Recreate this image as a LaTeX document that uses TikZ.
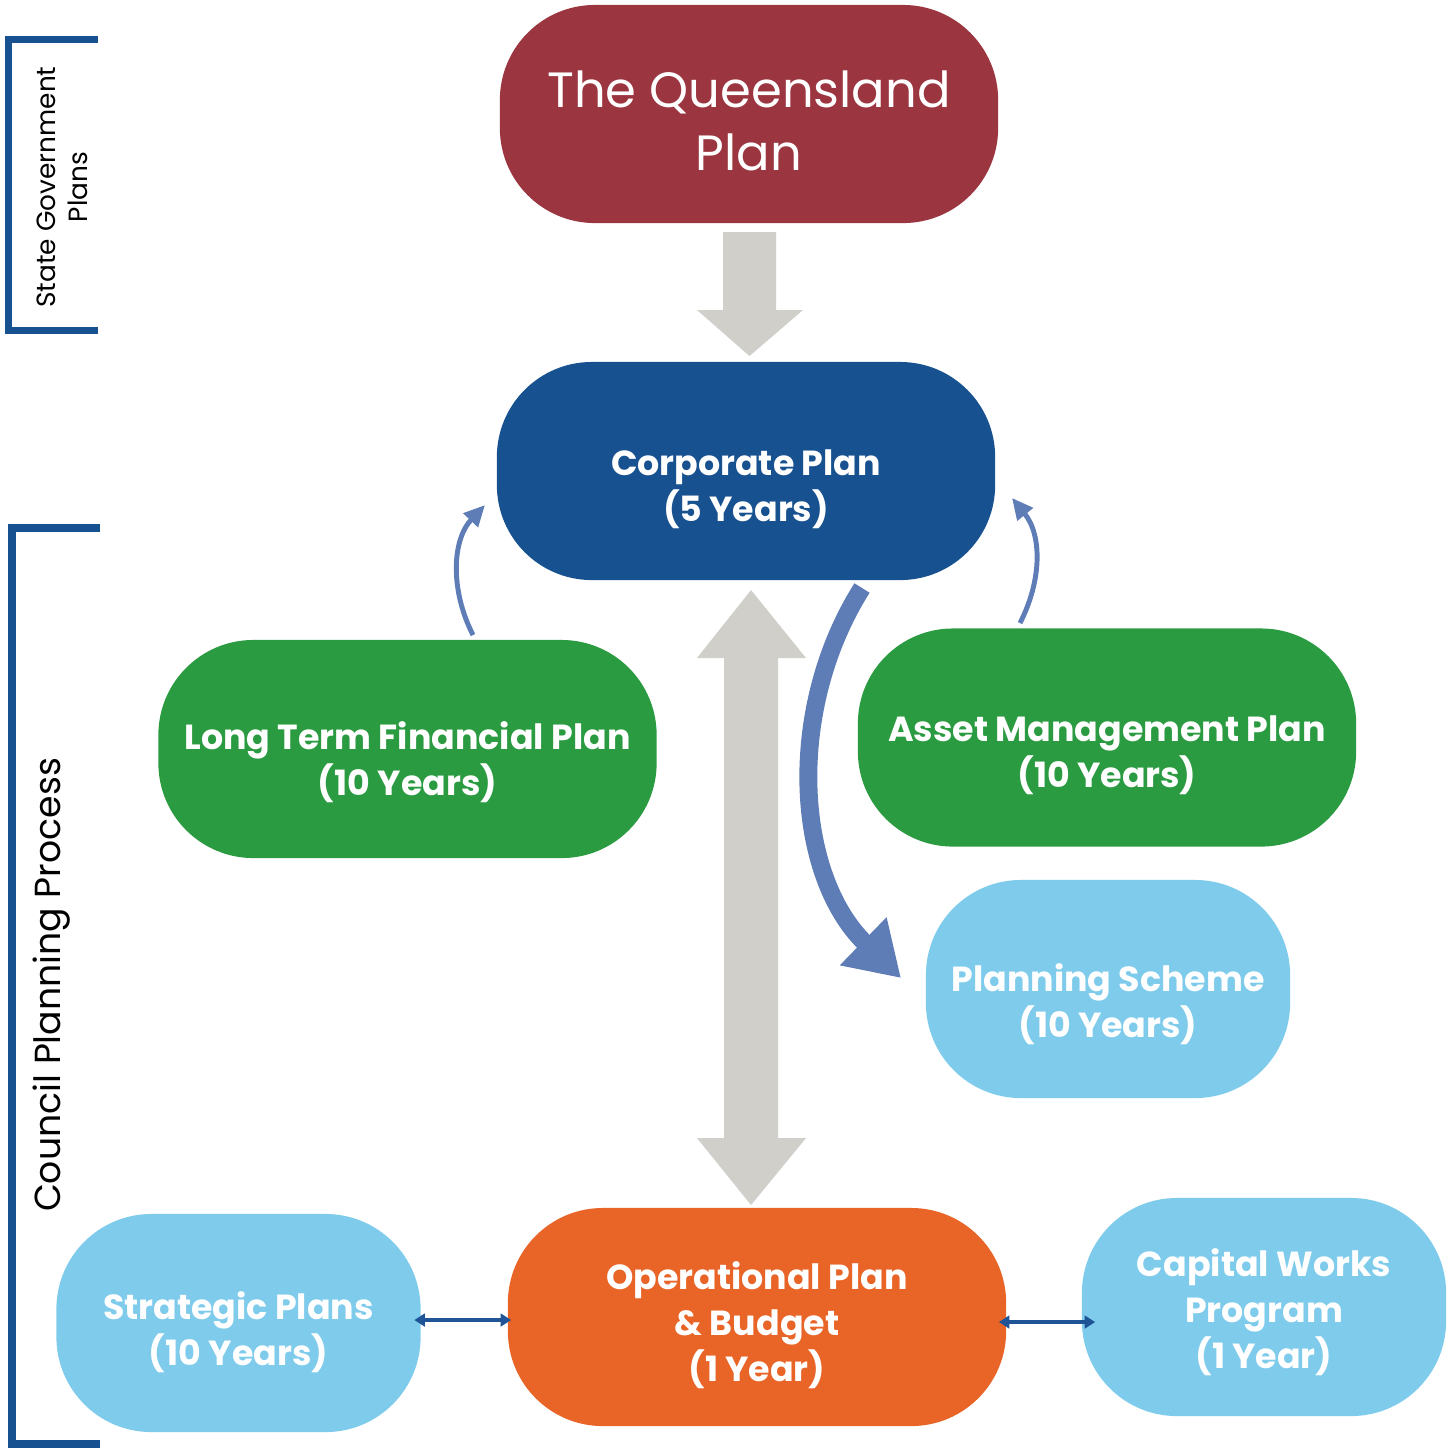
\documentclass[tikz,border=0pt]{standalone}
\usepackage{fontspec}
\setmainfont{Poppins}
\usetikzlibrary{arrows.meta,calc}
\definecolor{qred}{HTML}{9B3540}
\definecolor{cblue}{HTML}{17518F}
\definecolor{cgreen}{HTML}{2B9B42}
\definecolor{lblue}{HTML}{7FCBEC}
\definecolor{corange}{HTML}{E86427}
\definecolor{cgray}{HTML}{D0CFCA}
\definecolor{arrblue}{HTML}{5E7CB6}
\definecolor{dblue}{HTML}{1F5596}
\begin{document}
\begin{tikzpicture}[x=0.01cm,y=-0.01cm,
  box/.style={rounded corners=0.95cm, inner sep=0pt, minimum height=2.18cm},
  wbox/.style={box, minimum width=4.98cm},
  nbox/.style={box, minimum width=3.64cm},
  lbl/.style={align=center, text=white, inner sep=0pt, font=\fontsize{9.9}{13}\selectfont\bfseries},
  qlbl/.style={align=center, text=white, inner sep=0pt, font=\fontsize{14.1}{17.9}\selectfont},
  bracket/.style={draw=cblue, line width=2.4pt},
  blockarrow/.style={fill=cgray},
  smallcurve/.style={draw=arrblue, line width=1.4pt, -{Triangle[length=6pt,width=5.5pt]}},
  dbl/.style={draw=dblue, line width=0.9pt, {Triangle[length=3pt,width=3.6pt]}-{Triangle[length=3pt,width=3.6pt]}}
]
\useasboundingbox (0,0) rectangle (1455,1450);

% boxes
\node[wbox, fill=qred, label={[qlbl, yshift=-0.07cm]center:{The Queensland\\Plan}}] (qld) at (749,114) {};
\node[wbox, fill=cblue, label={[lbl, yshift=-0.18cm]center:{Corporate Plan\\(5 Years)}}] (corp) at (746,471) {};
\node[wbox, fill=cgreen, label={[lbl, yshift=-0.13cm]center:{Long Term Financial Plan\\(10 Years)}}] (ltfp) at (407.5,749) {};
\node[wbox, fill=cgreen, label={[lbl, yshift=-0.18cm]center:{Asset Management Plan\\(10 Years)}}] (amp) at (1107,737.5) {};
\node[nbox, fill=lblue, label={[lbl, yshift=-0.15cm]center:{Planning Scheme\\(10 Years)}}] (ps) at (1108,989) {};
\node[nbox, fill=lblue, label={[lbl, yshift=-0.09cm]center:{Strategic Plans\\(10 Years)}}] (sp) at (238.5,1323) {};
\node[wbox, fill=corange, label={[lbl, yshift=-0.08cm]center:{Operational Plan\\\& Budget\\(1 Year)}}] (op) at (757,1317) {};
\node[nbox, fill=lblue, label={[lbl, yshift=-0.05cm]center:{Capital Works\\Program\\(1 Year)}}] (cw) at (1264,1307) {};

% gray block arrows
\fill[blockarrow] (723,232) -- (776,232) -- (776,310) -- (803,310) -- (749.5,356) -- (697,310) -- (723,310) -- cycle;
\fill[blockarrow] (751,590) -- (806,658) -- (778,658) -- (778,1138) -- (806,1138) -- (751,1205)
  -- (697,1138) -- (724,1138) -- (724,658) -- (697,658) -- cycle;

% big curved arrow
\coordinate (cstart) at (862,588);
\coordinate (cend) at (901,978);
\draw[draw=arrblue, line width=5.1pt, -{Triangle[length=15pt,width=18pt]}]
  (cstart) .. controls (785,710) and (795,875) .. (cend);

% small curved arrows
\coordinate (ls) at (473,635);
\coordinate (le) at (485,505);
\draw[smallcurve] (ls) .. controls (450,590) and (452,540) .. (le);
\coordinate (rs) at (1020,623);
\coordinate (re) at (1012,498);
\draw[smallcurve] (rs) .. controls (1042,580) and (1042,535) .. (re);

% small double arrows
\draw[dbl] ($(sp.east)+(-7,-3)$) -- ($(op.west)+(4,3)$);
\draw[dbl] ($(op.east)+(-8,5)$) -- ($(cw.west)+(14,15)$);

% brackets
\draw[bracket, line width=2pt] (98,39.5) -- (8.5,39.5) -- (8.5,330) -- (98,330);
\node[rotate=90, align=center, font=\fontsize{7.5}{9}\selectfont] (sg) at (62,187) {State Government\\Plans};
\draw[bracket] (100,528) -- (12,528) -- (12,1444) -- (100,1444);
\node[rotate=90, font=\fontsize{10.3}{13}\selectfont] (cpp) at (52,985) {Council Planning Process};
\end{tikzpicture}
\end{document}
